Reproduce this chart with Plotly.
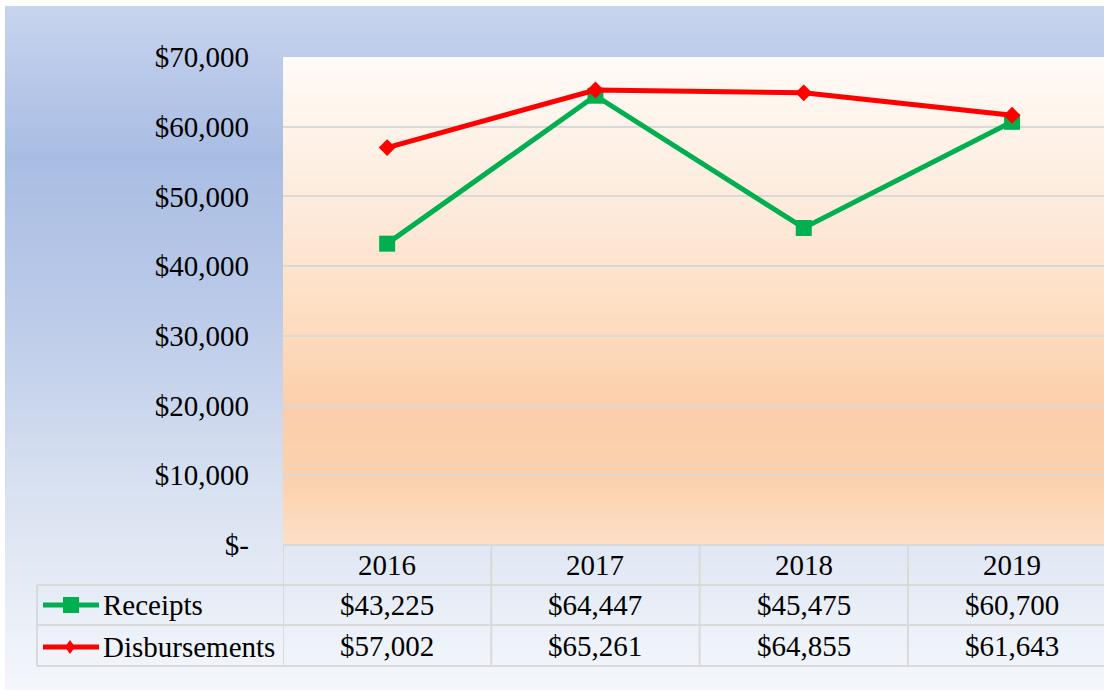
import base64
import struct
import zlib

import plotly.graph_objects as go

# ---------------- data ----------------
years = ["2016", "2017", "2018", "2019"]
receipts = [43225, 64447, 45475, 60700]
disbursements = [57002, 65261, 64855, 61643]
series_names = ["Receipts", "Disbursements"]
y_ticks = [0, 10000, 20000, 30000, 40000, 50000, 60000, 70000]
y_ticktext = ["$-", "$10,000", "$20,000", "$30,000", "$40,000", "$50,000", "$60,000", "$70,000"]

# ---------------- style ----------------
W, H = 1104, 690
L, T, B = 283, 57, 145
PW, PH = W - L, H - T - B
FONT = "Liberation Serif"
FS = 29
GREEN = "#00b050"
RED = "#ff0000"
GRID = "#d9d9d9"


def X(px):
    return (px - L) / PW


def Y(py):
    return (H - B - py) / PH


def lerp_stops(stops, n):
    """stops: list of (t, (r,g,b)); returns n rows of rgb."""
    rows = []
    for i in range(n):
        t = i / (n - 1)
        for k in range(len(stops) - 1):
            t0, c0 = stops[k]
            t1, c1 = stops[k + 1]
            if t0 <= t <= t1:
                f = 0 if t1 == t0 else (t - t0) / (t1 - t0)
                rows.append(tuple(int(round(c0[j] + (c1[j] - c0[j]) * f)) for j in range(3)))
                break
    return rows


def png_uri(rows):
    w, h = 1, len(rows)
    raw = b"".join(b"\x00" + bytes(c) for c in rows)

    def chunk(tag, data):
        return struct.pack(">I", len(data)) + tag + data + struct.pack(">I", zlib.crc32(tag + data) & 0xFFFFFFFF)

    png = b"\x89PNG\r\n\x1a\n" + chunk(b"IHDR", struct.pack(">IIBBBBB", w, h, 8, 2, 0, 0, 0)) \
        + chunk(b"IDAT", zlib.compress(raw, 9)) + chunk(b"IEND", b"")
    return "data:image/png;base64," + base64.b64encode(png).decode()


def hx(s):
    s = s.lstrip("#")
    return tuple(int(s[i:i + 2], 16) for i in (0, 2, 4))


# chart-area gradient (y 6 -> 690)
chart_stops = [(0.0, hx("#c7d5ee")), (0.08, hx("#bccbea")), (0.22, hx("#a9bde3")),
               (0.45, hx("#bccbe9")), (0.70, hx("#d8e1f1")), (0.85, hx("#e6ecf6")), (1.0, hx("#f5f7fc"))]
# plot-area gradient (y 57 -> 545)
plot_stops = [(0.0, hx("#fffbf7")), (0.3, hx("#fdebdc")), (0.5, hx("#fde0c6")),
              (0.72, hx("#fbcfab")), (0.86, hx("#fbd0ad")), (1.0, hx("#fde0c7"))]

fig = go.Figure()

fig.add_trace(go.Scatter(x=years, y=receipts, name=series_names[0], mode="lines+markers",
                         line=dict(color=GREEN, width=5),
                         marker=dict(symbol="square", size=16, color=GREEN)))
fig.add_trace(go.Scatter(x=years, y=disbursements, name=series_names[1], mode="lines+markers",
                         line=dict(color=RED, width=5),
                         marker=dict(symbol="diamond", size=13, color=RED)))

images = [
    dict(source=png_uri(lerp_stops(chart_stops, 200)), xref="paper", yref="paper",
         x=X(5), y=Y(6), sizex=X(W + 5) - X(5), sizey=Y(6) - Y(H + 2),
         xanchor="left", yanchor="top", sizing="stretch", layer="below"),
    dict(source=png_uri(lerp_stops(plot_stops, 200)), xref="paper", yref="paper",
         x=0, y=1, sizex=1.02, sizey=1, xanchor="left", yanchor="top",
         sizing="stretch", layer="below"),
]

shapes = []
line_style = dict(color=GRID, width=2)
# horizontal table lines
shapes.append(dict(type="line", xref="paper", yref="paper", x0=0, x1=1.02, y0=0, y1=0, line=line_style))
for py in (585, 625, 666):
    shapes.append(dict(type="line", xref="paper", yref="paper", x0=X(37), x1=1.02, y0=Y(py), y1=Y(py),
                       line=line_style))
# vertical table lines
shapes.append(dict(type="line", xref="paper", yref="paper", x0=X(37), x1=X(37), y0=Y(585), y1=Y(666),
                   line=line_style))
for i in range(len(years)):
    shapes.append(dict(type="line", xref="x", yref="paper", x0=i - 0.5, x1=i - 0.5, y0=0, y1=Y(666),
                       line=line_style))

# legend keys inside the table
key_rows = [(605, GREEN, "square"), (647, RED, "diamond")]
for py, col, sym in key_rows:
    shapes.append(dict(type="line", xref="paper", yref="paper", x0=X(43), x1=X(99), y0=Y(py), y1=Y(py),
                       line=dict(color=col, width=5)))
    if sym == "square":
        shapes.append(dict(type="rect", xref="paper", yref="paper", x0=X(63), x1=X(79), y0=Y(py - 8),
                           y1=Y(py + 8), fillcolor=col, line=dict(width=0)))
    else:
        cx = 70
        path = (f"M {X(cx - 5)},{Y(py)} L {X(cx)},{Y(py - 7)} L {X(cx + 5)},{Y(py)} "
                f"L {X(cx)},{Y(py + 7)} Z")
        shapes.append(dict(type="path", xref="paper", yref="paper", path=path, fillcolor=col,
                           line=dict(width=0)))

annotations = []
font = dict(family=FONT, size=FS, color="#000000")
for i, yr in enumerate(years):
    annotations.append(dict(x=i, y=Y(565), xref="x", yref="paper", text=yr, showarrow=False,
                            xanchor="center", yanchor="middle", font=font))
    annotations.append(dict(x=i, y=Y(605), xref="x", yref="paper", text=f"${receipts[i]:,}",
                            showarrow=False, xanchor="center", yanchor="middle", font=font))
    annotations.append(dict(x=i, y=Y(646), xref="x", yref="paper", text=f"${disbursements[i]:,}",
                            showarrow=False, xanchor="center", yanchor="middle", font=font))
for (py, _, _), name in zip(key_rows, series_names):
    annotations.append(dict(x=X(101), y=Y(py), xref="paper", yref="paper", text=name, showarrow=False,
                            xanchor="left", yanchor="middle", font=font))

fig.update_layout(
    width=W, height=H,
    margin=dict(l=L, r=0, t=T, b=B, pad=0),
    paper_bgcolor="#ffffff",
    plot_bgcolor="rgba(0,0,0,0)",
    showlegend=False,
    hovermode=False,
    images=images,
    shapes=shapes,
    annotations=annotations,
    xaxis=dict(type="category", range=[-0.5, -0.5 + PW / 208.3], showticklabels=False,
               showgrid=False, zeroline=False, showline=False, fixedrange=True),
    yaxis=dict(range=[0, 70000], tickvals=y_ticks, ticktext=y_ticktext, showgrid=True,
               gridcolor=GRID, gridwidth=2, zeroline=False, showline=False,
               tickfont=font, ticklabelstandoff=33, fixedrange=True),
)

fig.write_html("out.html", config={"displayModeBar": False})
